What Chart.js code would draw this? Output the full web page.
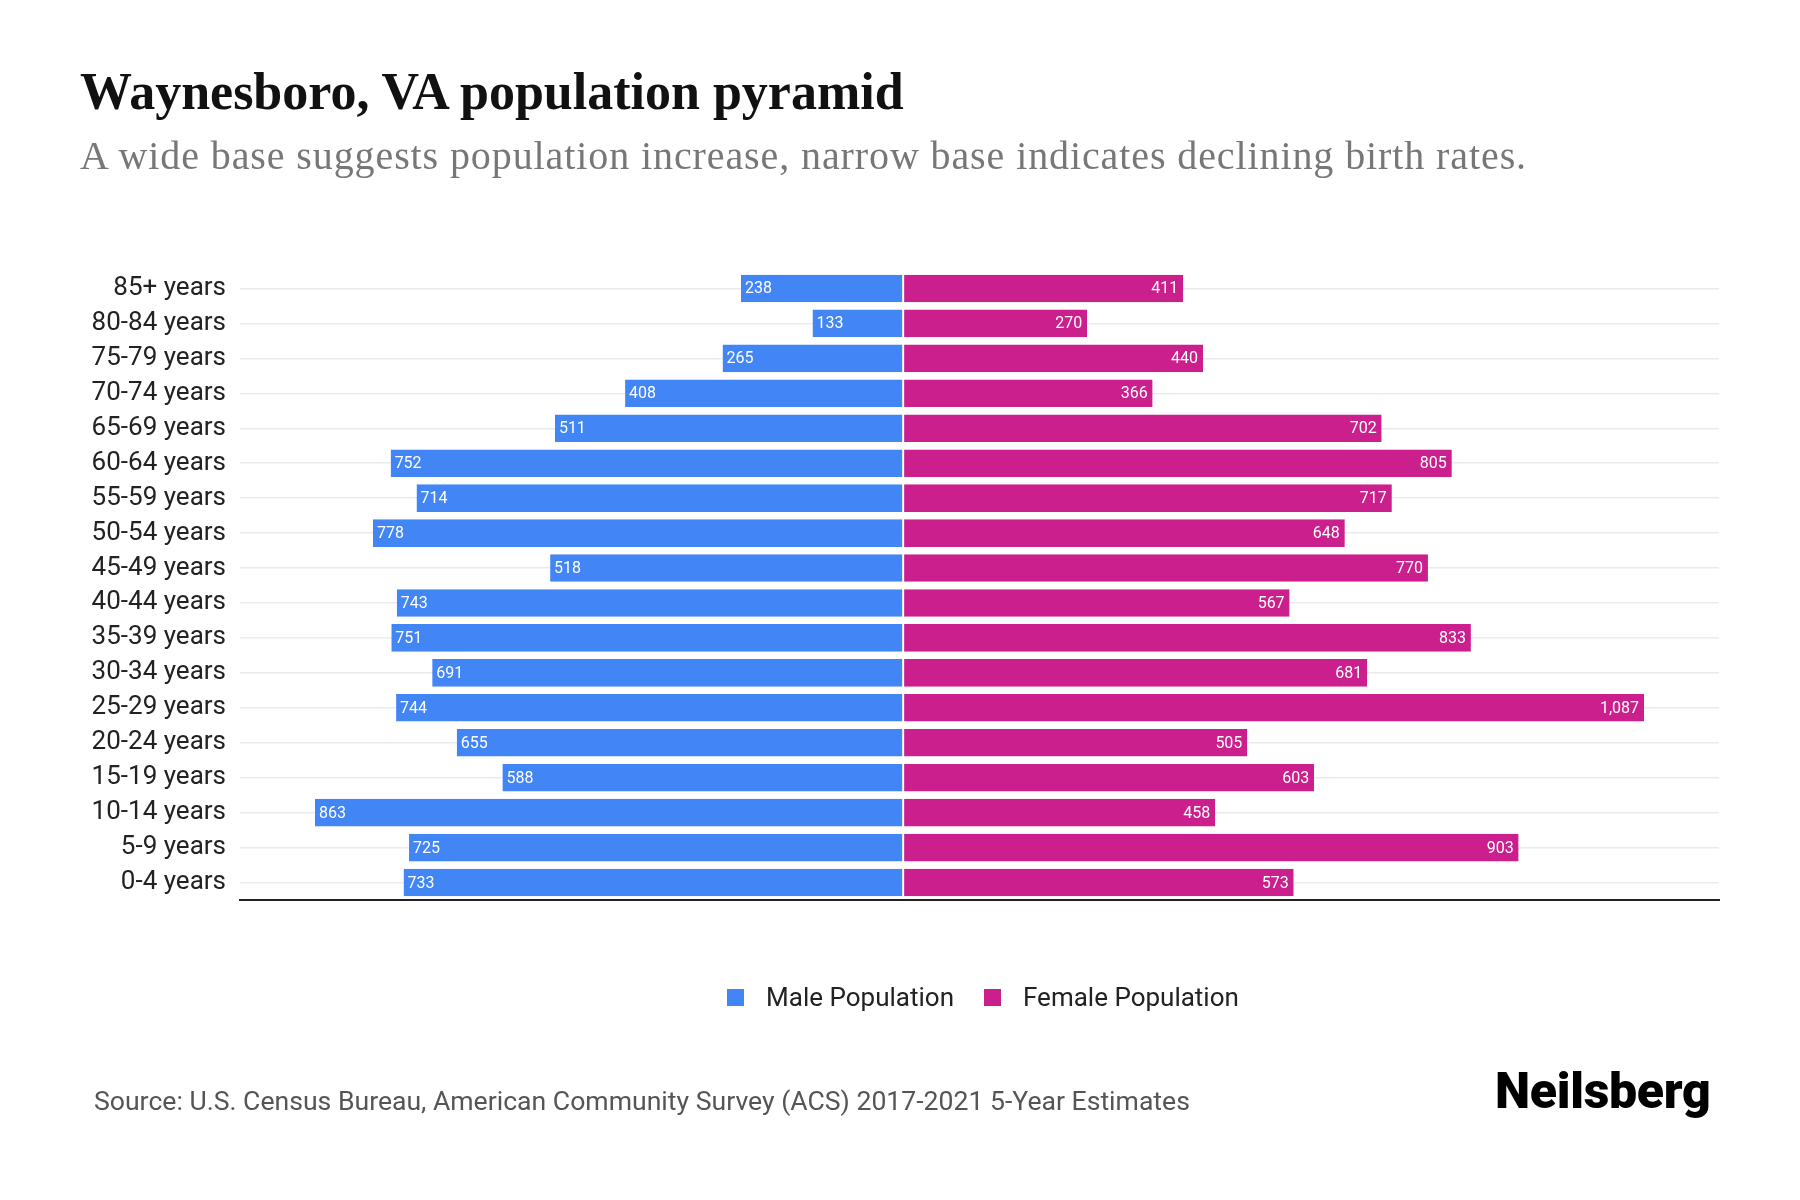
<!DOCTYPE html>
<html>
<head>
<meta charset="utf-8">
<title>Waynesboro, VA population pyramid</title>
<script src="https://cdn.jsdelivr.net/npm/chart.js@4.4.1/dist/chart.umd.min.js"></script>
<style>
  html, body { margin: 0; padding: 0; background: #fff; }
  #page { position: relative; width: 1800px; height: 1200px; overflow: hidden; }
  #chart-wrap { position: absolute; left: 0; top: 0; width: 1800px; height: 1200px; }
  .title { position: absolute; left: 80px; top: 64px; font-family: "Liberation Serif", serif; font-weight: bold; font-size: 52px; line-height: 56px; color: #111; white-space: nowrap; }
  .subtitle { position: absolute; left: 80px; top: 133px; font-family: "Liberation Serif", serif; font-size: 40px; letter-spacing: 0.9px; line-height: 46px; color: #777; white-space: nowrap; }
  .legend { position: absolute; left: 0; width: 1966px; top: 982px; display: flex; justify-content: center; gap: 30px; font-family: Roboto, sans-serif; font-size: 26px; color: #222; }
  .legend span.item { display: flex; align-items: center; }
  .legend i { display: inline-block; width: 17px; height: 17px; margin-right: 22px; }
  .source { position: absolute; left: 94px; top: 1085px; font-family: Roboto, sans-serif; font-size: 26.6px; color: #555; white-space: nowrap; }
  .logo { position: absolute; left: 1495px; top: 1062px; font-family: Roboto, sans-serif; font-weight: 900; font-size: 50px; letter-spacing: -0.3px; color: #000; }
</style>
</head>
<body>
<div id="page">
  <div id="chart-wrap"><canvas id="pyramid"></canvas></div>
  <div class="title">Waynesboro, VA population pyramid</div>
  <div class="subtitle">A wide base suggests population increase, narrow base indicates declining birth rates.</div>
  <div class="legend" id="legend"></div>
  <div class="source">Source: U.S. Census Bureau, American Community Survey (ACS) 2017-2021 5-Year Estimates</div>
  <div class="logo">Neilsberg</div>
</div>
<script>
// --- data ---
const ageGroups = ['85+ years', '80-84 years', '75-79 years', '70-74 years', '65-69 years', '60-64 years',
  '55-59 years', '50-54 years', '45-49 years', '40-44 years', '35-39 years', '30-34 years',
  '25-29 years', '20-24 years', '15-19 years', '10-14 years', '5-9 years', '0-4 years'];
const malePop = [238, 133, 265, 408, 511, 752, 714, 778, 518, 743, 751, 691, 744, 655, 588, 863, 725, 733];
const femalePop = [411, 270, 440, 366, 702, 805, 717, 648, 770, 567, 833, 681, 1087, 505, 603, 458, 903, 573];
const seriesNames = ['Male Population', 'Female Population'];

const MALE_COLOR = '#4285F4';
const FEMALE_COLOR = '#CB1F8E';

// value labels inside the bar ends
const barLabels = {
  id: 'barLabels',
  afterDatasetsDraw(chart) {
    const ctx = chart.ctx;
    ctx.save();
    ctx.font = '16px Roboto, sans-serif';
    ctx.fillStyle = '#fff';
    ctx.textBaseline = 'middle';
    chart.data.datasets.forEach((ds, di) => {
      const meta = chart.getDatasetMeta(di);
      meta.data.forEach((bar, i) => {
        const v = Math.abs(ds.data[i]);
        const txt = v.toLocaleString('en-US');
        if (di === 0) {
          ctx.textAlign = 'left';
          ctx.fillText(txt, bar.x + 4, bar.y + 1);
        } else {
          ctx.textAlign = 'right';
          ctx.fillText(txt, bar.x - 5, bar.y + 1);
        }
      });
    });
    ctx.restore();
  }
};

function init() {
  const ctx = document.getElementById('pyramid').getContext('2d');
  new Chart(ctx, {
    type: 'bar',
    data: {
      labels: ageGroups,
      datasets: [{
        label: seriesNames[0],
        data: malePop.map(v => -v),
        backgroundColor: MALE_COLOR,
        borderColor: '#fff',
        borderWidth: { right: 1, left: 0, top: 0, bottom: 0 },
        borderSkipped: false
      }, {
        label: seriesNames[1],
        data: femalePop,
        backgroundColor: FEMALE_COLOR,
        borderColor: '#fff',
        borderWidth: { left: 1, right: 0, top: 0, bottom: 0 },
        borderSkipped: false
      }]
    },
    options: {
      indexAxis: 'y',
      responsive: true,
      maintainAspectRatio: false,
      animation: false,
      layout: { padding: { left: 0, right: 81, top: 271, bottom: 300 } },
      datasets: { bar: { categoryPercentage: 1, barPercentage: 0.79 } },
      scales: {
        x: {
          stacked: true,
          min: -973,
          max: 1197,
          grid: { display: false, drawTicks: false },
          ticks: { display: false },
          border: { display: true, color: '#222', width: 2 },
          afterFit(scale) { scale.height = 0; }
        },
        y: {
          stacked: true,
          grid: { offset: false, color: '#ebebeb', lineWidth: 1.5, drawTicks: false },
          border: { display: false },
          ticks: { color: '#222', padding: 14, font: { family: 'Roboto', size: 26 } },
          afterFit(scale) { scale.width = 240; }
        }
      },
      plugins: {
        legend: { display: false },
        tooltip: { enabled: false }
      }
    },
    plugins: [barLabels]
  });

  // legend
  const legend = document.getElementById('legend');
  [MALE_COLOR, FEMALE_COLOR].forEach((c, i) => {
    const item = document.createElement('span');
    item.className = 'item';
    item.innerHTML = '<i style="background:' + c + '"></i>' + seriesNames[i];
    legend.appendChild(item);
  });
}

window.onload = init;
</script>
</body>
</html>
